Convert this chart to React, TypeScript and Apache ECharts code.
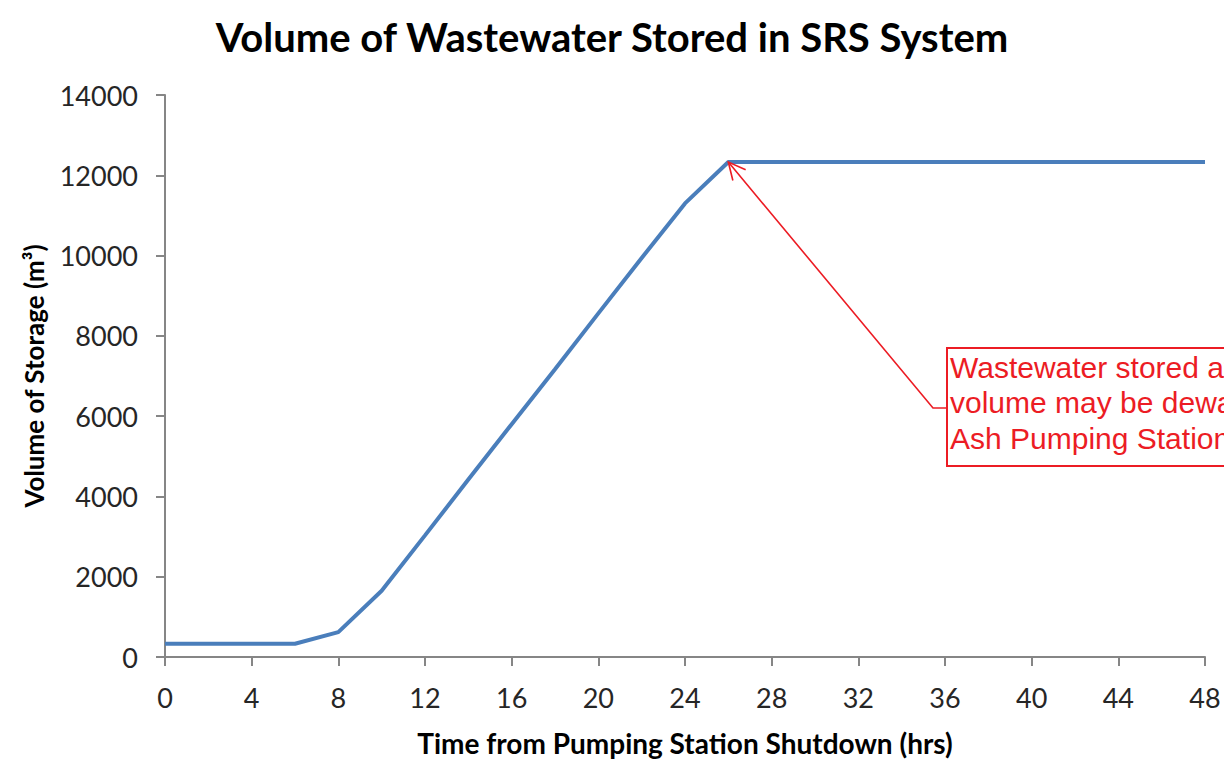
import React, { useEffect, useRef } from "react";
import * as echarts from "echarts";

const hours = [0, 2, 4, 6, 8, 10, 12, 14, 16, 18, 20, 22, 24, 26, 28, 30, 32, 34, 36, 38, 40, 42, 44, 46, 48];
const volume = [330, 330, 330, 330, 620, 1650, 3030, 4420, 5800, 7170, 8560, 9940, 11300, 12330, 12330, 12330, 12330, 12330, 12330, 12330, 12330, 12330, 12330, 12330, 12330];
const xTicks = [0, 4, 8, 12, 16, 20, 24, 28, 32, 36, 40, 44, 48];
const yTicks = [0, 2000, 4000, 6000, 8000, 10000, 12000, 14000];
const annotationLines = ["Wastewater stored at", "volume may be dewatered", "Ash Pumping Station"];
const annotationPoint = [26, 12330];

export default function App() {
  const ref = useRef<HTMLDivElement>(null);
  useEffect(() => {
    if (!ref.current) return;
    const chart = echarts.init(ref.current, null, { renderer: "svg" });
    const axisColor = "#868686";
    const labelFont = "Lato, 'Open Sans', sans-serif";
    chart.setOption({
      animation: false,
      backgroundColor: "#ffffff",
      title: {
        text: "Volume of Wastewater Stored in SRS System",
        left: "center",
        top: 12,
        textStyle: { fontFamily: labelFont, fontWeight: "bold", fontSize: 40, color: "#000000" },
      },
      grid: { left: 165, right: 19, top: 95, bottom: 105, containLabel: false },
      xAxis: {
        type: "value",
        min: 0,
        max: 48,
        interval: 4,
        name: "Time from Pumping Station Shutdown (hrs)",
        nameLocation: "middle",
        nameGap: 72,
        nameTextStyle: { fontFamily: labelFont, fontWeight: "bold", fontSize: 28, color: "#000000", verticalAlign: "top" },
        axisLine: { show: true, lineStyle: { color: axisColor, width: 2 } },
        axisTick: { show: true, length: 9, lineStyle: { color: axisColor, width: 2 } },
        splitLine: { show: false },
        axisLabel: {
          fontFamily: labelFont,
          fontSize: 27,
          color: "#262626",
          margin: 27,
          formatter: (v: number) => (xTicks.includes(v) ? String(v) : ""),
        },
      },
      yAxis: {
        type: "value",
        min: 0,
        max: 14000,
        interval: 2000,
        name: "Volume of Storage (m³)",
        nameLocation: "middle",
        nameGap: 118,
        nameRotate: 90,
        nameTextStyle: { fontFamily: labelFont, fontWeight: "bold", fontSize: 26, color: "#000000" },
        axisLine: { show: true, lineStyle: { color: axisColor, width: 2 } },
        axisTick: { show: true, length: 9, lineStyle: { color: axisColor, width: 2 } },
        splitLine: { show: false },
        axisLabel: {
          fontFamily: labelFont,
          fontSize: 27,
          color: "#262626",
          margin: 27,
          formatter: (v: number) => (yTicks.includes(v) ? String(v) : ""),
        },
      },
      series: [
        {
          type: "line",
          data: hours.map((h, i) => [h, volume[i]]),
          symbol: "none",
          lineStyle: { color: "#4a7ebb", width: 4 },
          z: 3,
        },
      ],
    });

    const tip = chart.convertToPixel({ gridIndex: 0 }, annotationPoint) as number[];
    const elbow = [933, 408];
    const boxLeft = 947;
    const boxTop = 348;
    const boxBottom = 466;
    const dx = elbow[0] - tip[0];
    const dy = elbow[1] - tip[1];
    const ang = Math.atan2(dy, dx);
    const headLen = 19;
    const spread = (26 * Math.PI) / 180;
    const a1 = [tip[0] + headLen * Math.cos(ang + spread), tip[1] + headLen * Math.sin(ang + spread)];
    const a2 = [tip[0] + headLen * Math.cos(ang - spread), tip[1] + headLen * Math.sin(ang - spread)];
    const red = "#ec1c24";
    chart.setOption({
      graphic: [
        {
          type: "polyline",
          shape: { points: [[boxLeft, elbow[1]], elbow, tip] },
          style: { stroke: red, lineWidth: 1.6, fill: "none" },
          z: 10,
        },
        {
          type: "polyline",
          shape: { points: [a1, tip, a2] },
          style: { stroke: red, lineWidth: 1.6, fill: "none" },
          z: 10,
        },
        {
          type: "rect",
          shape: { x: boxLeft, y: boxTop, width: 400, height: boxBottom - boxTop },
          style: { stroke: red, lineWidth: 2, fill: "#ffffff" },
          z: 10,
        },
        ...annotationLines.map((t, i) => ({
          type: "text",
          x: boxLeft + 3,
          y: boxTop + 19 + i * 35.5,
          style: {
            text: t,
            fill: red,
            font: "30px 'Liberation Sans', Arial, sans-serif",
            textVerticalAlign: "middle",
          },
          z: 11,
        })),
      ],
    });
    return () => chart.dispose();
  }, []);
  return <div ref={ref} style={{ position: "fixed", left: 0, top: 0, width: 1224, height: 762 }} />;
}
